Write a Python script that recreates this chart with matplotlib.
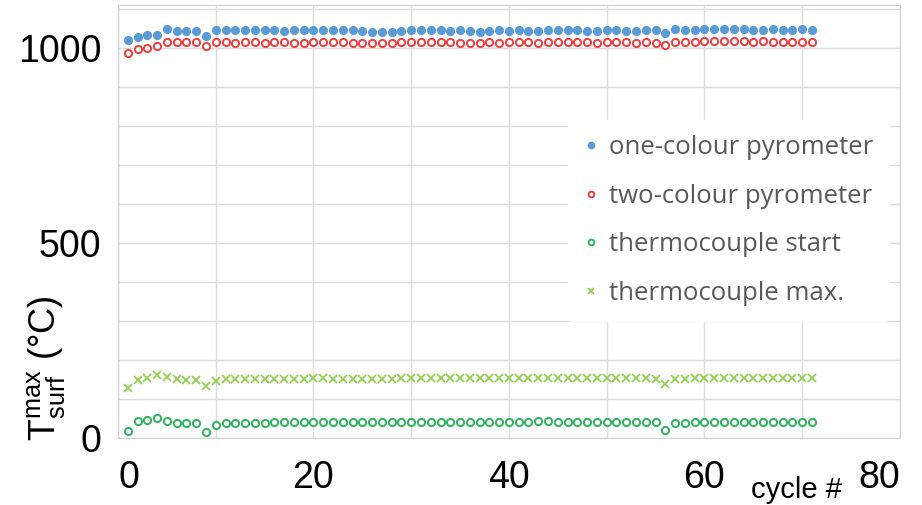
import numpy as np
import matplotlib.pyplot as plt

# cycle numbers 1..71
cycles = np.arange(1, 72)

# one-colour pyrometer (°C)
one_colour = [1020, 1028, 1033, 1034, 1048, 1043, 1043, 1043, 1031, 1045,
              1046, 1045, 1046, 1045, 1045, 1046, 1044, 1045, 1045, 1046,
              1045, 1045, 1046, 1045, 1044, 1041, 1040, 1041, 1044, 1045,
              1046, 1045, 1045, 1044, 1045, 1043, 1042, 1044, 1045, 1044,
              1045, 1044, 1044, 1045, 1046, 1045, 1046, 1044, 1043, 1045,
              1046, 1044, 1043, 1045, 1045, 1038, 1048, 1047, 1046, 1048,
              1049, 1049, 1048, 1049, 1047, 1046, 1049, 1047, 1046, 1048, 1045]

# two-colour pyrometer (°C)
two_colour = [988, 997, 1001, 1004, 1015, 1014, 1014, 1014, 1004, 1014,
              1014, 1013, 1014, 1014, 1013, 1014, 1014, 1013, 1013, 1014,
              1015, 1014, 1014, 1013, 1013, 1012, 1012, 1013, 1014, 1015,
              1014, 1014, 1015, 1014, 1013, 1012, 1013, 1014, 1013, 1014,
              1014, 1014, 1013, 1015, 1015, 1014, 1015, 1014, 1013, 1014,
              1015, 1014, 1013, 1014, 1013, 1008, 1016, 1016, 1015, 1017,
              1017, 1018, 1017, 1017, 1016, 1017, 1016, 1015, 1016, 1015, 1015]

# thermocouple at cycle start (°C)
tc_start = [17, 43, 46, 51, 44, 39, 38, 38, 15, 34,
            38, 39, 39, 39, 39, 40, 40, 40, 40, 40,
            40, 40, 40, 40, 40, 40, 40, 40, 41, 41,
            41, 41, 41, 41, 41, 41, 41, 41, 41, 41,
            41, 41, 42, 42, 41, 41, 41, 41, 41, 41,
            41, 41, 41, 41, 40, 19, 38, 39, 40, 41,
            41, 41, 41, 41, 41, 41, 41, 41, 41, 41, 41]

# thermocouple maximum (°C)
tc_max = [128, 149, 154, 161, 156, 150, 149, 149, 133, 147,
          151, 151, 151, 152, 152, 152, 152, 152, 152, 153,
          153, 152, 152, 152, 152, 152, 152, 152, 153, 153,
          153, 153, 153, 153, 153, 153, 153, 153, 153, 153,
          153, 153, 153, 153, 153, 153, 153, 153, 153, 153,
          153, 153, 153, 153, 152, 138, 151, 152, 153, 154,
          154, 154, 153, 153, 153, 153, 153, 153, 153, 153, 153]

plt.rcParams['mathtext.fontset'] = 'custom'
plt.rcParams['mathtext.rm'] = 'Liberation Sans'

fig = plt.figure(figsize=(9.22, 5.05), dpi=100)
ax = fig.add_axes([0.128, 0.133, 0.848, 0.857])

ax.plot(cycles, one_colour, 'o', ms=5.6, color='#5B9BD5', mec='#5B9BD5',
        label='one-colour pyrometer', zorder=3)
ax.plot(cycles, two_colour, 'o', ms=5.2, mfc='white', mec='#F03C3C', mew=1.4,
        label='two-colour pyrometer', zorder=3)
ax.plot(cycles, tc_start, 'o', ms=5.2, mfc='white', mec='#2DB45C', mew=1.4,
        label='thermocouple start', zorder=3)
ax.plot(cycles, tc_max, 'x', ms=5.2, color='#92D050', mew=1.3,
        label='thermocouple max.', zorder=3)

ax.set_xlim(0, 80)
ax.set_ylim(0, 1110)
ax.set_xticks(np.arange(0, 81, 10))
ax.set_yticks(np.arange(0, 1101, 100))
ax.grid(True, color='#DCDCDC', lw=1.0)
ax.set_axisbelow(True)
for s in ax.spines.values():
    s.set_color('#D0D0D0')

# only 0/20/40/60/80 and 0/500/1000 labelled
ax.set_xticklabels(['0', '', '20', '', '40', '', '60', '', '80'],
                   fontfamily='Liberation Sans', fontsize=27)
ax.set_yticklabels(['0', '', '', '', '', '500', '', '', '', '', '1000', ''],
                   fontfamily='Liberation Sans', fontsize=27)
ax.tick_params(axis='y', length=0, pad=12)
ax.tick_params(axis='x', length=0, pad=16)
xl = ax.get_xticklabels()
xl[0].set_horizontalalignment('left')
xl[-1].set_horizontalalignment('right')

fig.text(0.05, 0.271, r'$\mathregular{T_{surf}^{max}}$ (°C)', rotation=90,
         fontfamily='Liberation Sans', fontsize=26, ha='center', va='center')
fig.text(0.864, 0.03, 'cycle #', fontfamily='Liberation Sans', fontsize=21,
         ha='center', va='center')

leg = ax.legend(loc='upper left', bbox_to_anchor=(0.559, 0.765), frameon=True,
                prop={'family': 'Open Sans', 'size': 18.5}, labelspacing=0.92,
                handlelength=0.6, handletextpad=0.4, markerscale=0.8,
                borderpad=0.6)
leg.get_frame().set_edgecolor('white')
leg.get_frame().set_facecolor('white')
leg.get_frame().set_alpha(1)
for t in leg.get_texts():
    t.set_color('#595959')

fig.savefig('out.png', dpi=100)
